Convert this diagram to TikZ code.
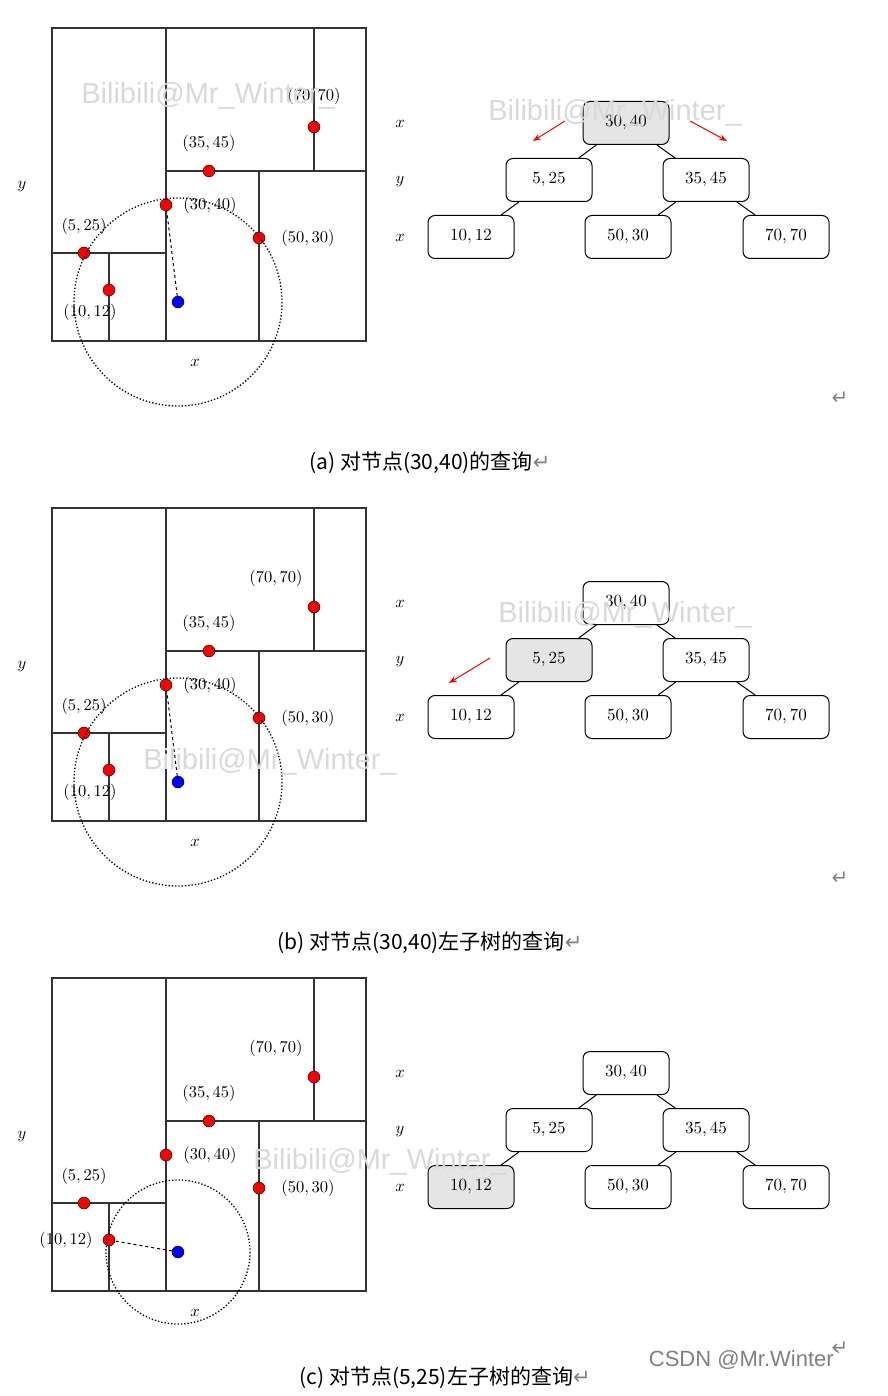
\documentclass[tikz,border=0pt]{standalone}
\usepackage{fontspec}
\newfontfamily\cjk{Noto Sans CJK SC}
\newfontfamily\wmf{Liberation Sans}
\newfontfamily\dvs{DejaVu Sans}
\usetikzlibrary{arrows.meta,backgrounds}
\tikzset{
 pt/.style={circle,draw=black,fill=red,inner sep=0pt,minimum size=12pt},
 bpt/.style={circle,draw=black,fill=blue,inner sep=0pt,minimum size=12pt},
 lbl/.style={scale=1.65,inner sep=1pt},
 tn/.style={draw,line width=1pt,rounded corners=7pt,minimum width=86pt,minimum height=43pt,fill=white},
 tt/.style={scale=1.7},
 hl/.style={fill=gray!20},
 edge/.style={line width=1pt},
 part/.style={line width=1.4pt,draw=black!80},
 ra/.style={red,-{Stealth[length=8pt]},line width=1pt},
 wm/.style={text=gray!30,font=\wmf\fontsize{29}{29}\selectfont},
 captxt/.style={font=\cjk\fontsize{21}{21}\selectfont},
 ret/.style={text=gray,font=\dvs\fontsize{20}{20}\selectfont}
}
\newcommand\basepanel[3]{%
 \draw[part] (52,28) rectangle (366,341);
 \draw[part] (166,28) -- (166,341);
 \draw[part] (52,253) -- (166,253);
 \draw[part] (109,253) -- (109,341);
 \draw[part] (166,171) -- (366,171);
 \draw[part] (314,28) -- (314,171);
 \draw[part] (259,171) -- (259,341);
 \node[pt] (p3040) at (166,205) {};
 \node[pt] (p3545) at (209,171) {};
 \node[pt] (p7070) at (314,127) {};
 \node[pt] (p525) at (84,253) {};
 \node[pt] (p1012) at (109,290) {};
 \node[pt] (p5030) at (259,238) {};
 \node[bpt] (q) at (178,302) {};
 \node[lbl] (ly) at (22,187) {$y$};
 \node[lbl] (lx) at (195,363) {$x$};
 \node[lbl] (l3545) at (209,143) {$(35,45)$};
 \node[lbl] (l3040) at (210,205) {$(30,40)$};
 \node[lbl] (l5030) at (308,238) {$(50,30)$};
 \node[lbl] (l525) at (84,226) {$(5,25)$};
 \node[lbl] (ta) at (400,124) {$x$};
 \node[lbl] (tb) at (400,182) {$y$};
 \node[lbl] (tc) at (400,238) {$x$};
 \node[tn,#3] (n3040) at (626,123) {};
 \node[tn,#1] (n525) at (549,180) {};
 \node[tn] (n3545) at (706,180) {};
 \node[tn,#2] (n1012) at (471,237) {};
 \node[tn] (n5030) at (628,237) {};
 \node[tn] (n7070) at (786,237) {};
 \node[tt] (t3040) at (n3040) {$30,40$};
 \node[tt] (t525) at (n525) {$5,25$};
 \node[tt] (t3545) at (n3545) {$35,45$};
 \node[tt] (t1012) at (n1012) {$10,12$};
 \node[tt] (t5030) at (n5030) {$50,30$};
 \node[tt] (t7070) at (n7070) {$70,70$};
 \draw[edge] (n3040) -- (n525); \draw[edge] (n3040) -- (n3545);
 \draw[edge] (n525) -- (n1012); \draw[edge] (n3545) -- (n5030); \draw[edge] (n3545) -- (n7070);
 \node[ret] (r) at (840,398) {↵};
}
\begin{document}
\begin{tikzpicture}[x=1pt,y=-1pt]
\useasboundingbox (0,0) rectangle (887,1396);
% (a)
\begin{scope}
 \basepanel{}{}{hl}
 \node[lbl] (l7070) at (314,96) {$(70,70)$};
 \node[lbl] (l1012) at (90,312) {$(10,12)$};
 \draw[dashed,line width=1pt] (q) -- (p3040);
 \draw[dotted,line width=1.3pt] (q) circle (104);
 \coordinate (a1) at (565,121); \coordinate (a2) at (533,141);
 \coordinate (a3) at (690,121); \coordinate (a4) at (727,141);
 \draw[ra] (a1) -- (a2); \draw[ra] (a3) -- (a4);
 \node[captxt] (ca) at (430,463) {(a) 对节点(30,40)的查询{\dvs\color{gray}↵}};
 \node[wm] (w1) at (208,96) {Bilibili@Mr\_Winter\_};
 \node[wm] (w2) at (615,113) {Bilibili@Mr\_Winter\_};
\end{scope}
% (b)
\begin{scope}[shift={(0,480)}]
 \basepanel{hl}{}{}
 \node[lbl] (l7070) at (276,98) {$(70,70)$};
 \node[lbl] (l1012) at (90,312) {$(10,12)$};
 \draw[dashed,line width=1pt] (q) -- (p3040);
 \draw[dotted,line width=1.3pt] (q) circle (104);
 \coordinate (a1) at (490,178); \coordinate (a2) at (449,203);
 \draw[ra] (a1) -- (a2);
 \node[captxt] (cb) at (430,463) {(b) 对节点(30,40)左子树的查询{\dvs\color{gray}↵}};
 \node[wm] (w1) at (625,135) {Bilibili@Mr\_Winter\_};
 \node[wm] (w2) at (270,282) {Bilibili@Mr\_Winter\_};
\end{scope}
% (c)
\begin{scope}[shift={(0,950)}]
 \basepanel{}{hl}{}
 \node[lbl] (l7070) at (276,98) {$(70,70)$};
 \node[lbl] (l1012) at (66,290) {$(10,12)$};
 \draw[dashed,line width=1pt] (q) -- (p1012);
 \draw[dotted,line width=1.3pt] (q) circle (72);
 \node[captxt] (cc) at (445,428) {(c) 对节点(5,25)左子树的查询{\dvs\color{gray}↵}};
 \node[wm] (w1) at (380,212) {Bilibili@Mr\_Winter\_};
 \node[font=\wmf\fontsize{22}{22}\selectfont,text=gray] (cs) at (745,410) {CSDN @Mr.Winter`};
\end{scope}
\end{tikzpicture}
\end{document}
